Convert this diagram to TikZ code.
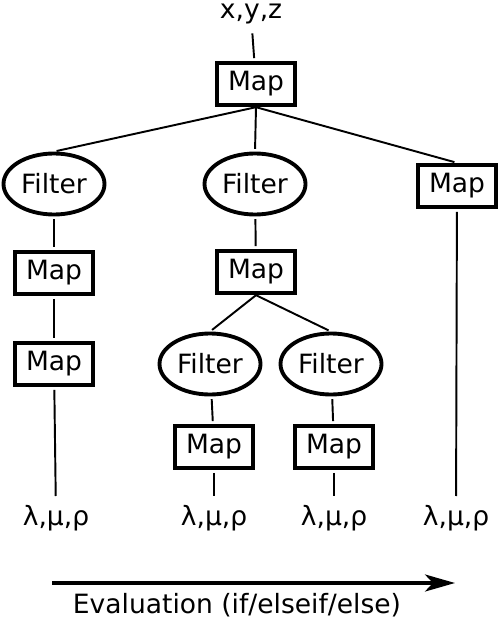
\documentclass[tikz,border=0pt]{standalone}
\usepackage{fontspec}
\setmainfont{DejaVu Sans}
\usetikzlibrary{arrows.meta, shapes, shapes.geometric, positioning}

\begin{document}
\begin{tikzpicture}[scale=1.0,
		box/.style={draw, line width=2.2pt, rectangle, minimum width=1.55cm, minimum height=0.85cm, inner sep=0pt},
		oval/.style={draw, line width=2.2pt, ellipse, minimum width=2.02cm, minimum height=1.22cm, inner sep=0pt},
		link/.style={line width=1.1pt, shorten >=1.5pt, shorten <=1.5pt},
		font=\fontsize{15.1}{17}\selectfont]
			\useasboundingbox (0,0) rectangle (10,-12.36);

			% Entrada
			\node[anchor=base] (xyz) at (5.02,-0.38) {x,y,z};
			\node[box] (mapTop) at (5.12,-1.68) {Map};

			% Ramas
			\node[oval] (filtA) at (1.08,-3.68) {Filter};
			\node[oval] (filtB) at (5.10,-3.68) {Filter};
			\node[box] (mapC) at (9.14,-3.72) {Map};

			\node[box] (mapA1) at (1.08,-5.46) {Map};
			\node[box] (mapA2) at (1.08,-7.28) {Map};

			\node[box] (mapB) at (5.12,-5.44) {Map};
			\node[oval] (filtBa) at (4.20,-7.28) {Filter};
			\node[oval] (filtBb) at (6.62,-7.28) {Filter};
			\node[box] (mapBa) at (4.28,-8.94) {Map};
			\node[box] (mapBb) at (6.68,-8.94) {Map};

			% Salidas
			\node[anchor=base] (outA) at (1.12,-10.5) {λ,μ,ρ};
			\node[anchor=base] (outBa) at (4.28,-10.5) {λ,μ,ρ};
			\node[anchor=base] (outBb) at (6.68,-10.5) {λ,μ,ρ};
			\node[anchor=base] (outC) at (9.12,-10.5) {λ,μ,ρ};

			% Conexiones
			\draw[link] (xyz) -- (mapTop);
			\draw[link, shorten <=0pt] (mapTop.south) -- (filtA.north);
			\draw[link, shorten <=0pt] (mapTop.south) -- (filtB.north);
			\draw[link, shorten <=0pt] (mapTop.south) -- (mapC.north);
			\draw[link] (filtA) -- (mapA1);
			\draw[link] (mapA1) -- (mapA2);
			\draw[link] (mapA2) -- (outA);
			\draw[link] (filtB) -- (mapB);
			\draw[link, shorten <=0pt] (mapB.south) -- (filtBa.north);
			\draw[link, shorten <=0pt] (mapB.south) -- (filtBb.north);
			\draw[link] (filtBa) -- (mapBa);
			\draw[link] (filtBb) -- (mapBb);
			\draw[link] (mapBa) -- (outBa);
			\draw[link] (mapBb) -- (outBb);
			\draw[link] (mapC) -- (outC);

			% Evaluaci\'on
			\coordinate (evalStart) at (1.04,-11.66);
			\coordinate (evalEnd) at (9.10,-11.66);
			\draw[line width=2pt, -{Stealth[length=6mm, width=3.4mm, inset=1.6mm]}] (evalStart) -- (evalEnd);
			\node (evalText) at (4.74,-12.1) {Evaluation (if/elseif/else)};
		\end{tikzpicture}
\end{document}
